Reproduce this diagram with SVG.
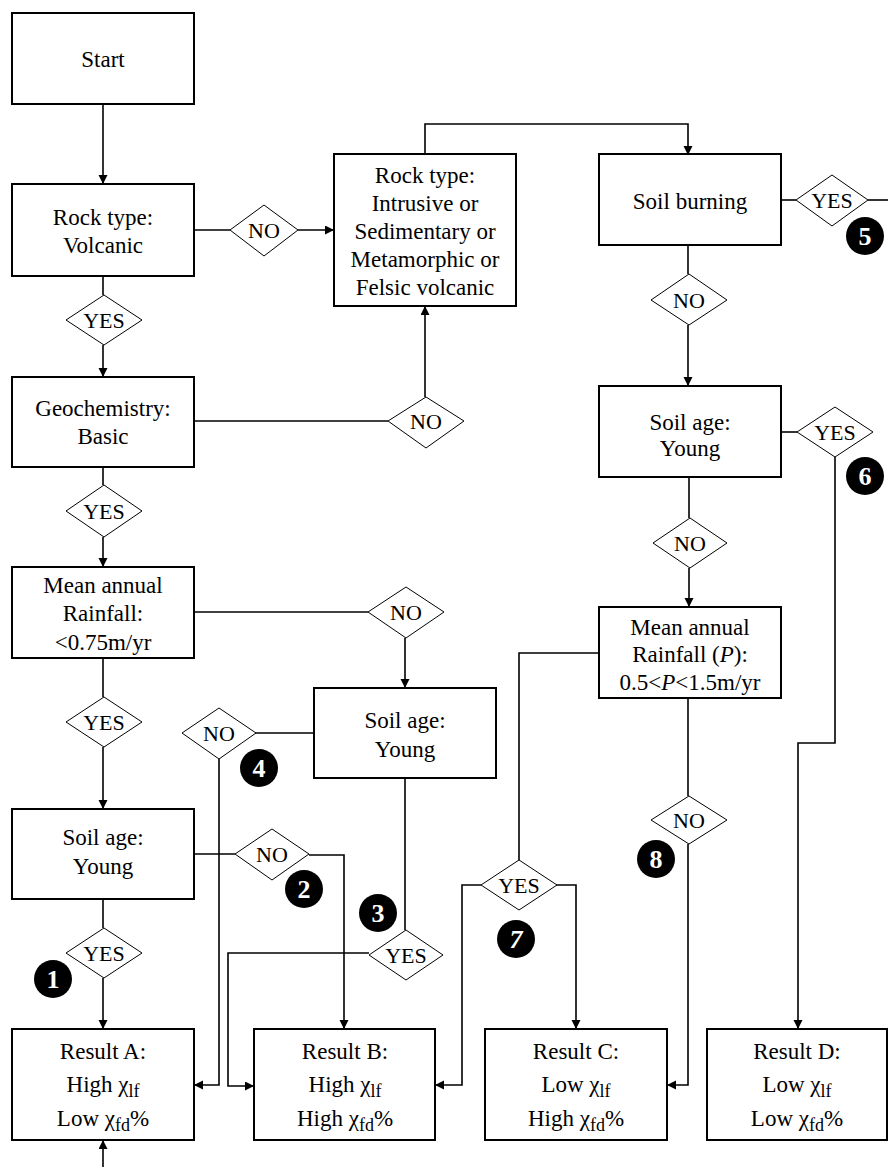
<svg xmlns="http://www.w3.org/2000/svg" width="888" height="1167" viewBox="0 0 888 1167" font-family="Liberation Serif, Times New Roman, DejaVu Serif, serif">
<defs>
<marker id="ah" markerUnits="userSpaceOnUse" markerWidth="10" markerHeight="10" refX="9" refY="4.5" orient="auto">
<path d="M0,0 L9,4.5 L0,9 z" fill="#000"/>
</marker>
<style>
.box{fill:#fff;stroke:#000;stroke-width:2}
.dia{fill:#fff;stroke:#000;stroke-width:1}
.t{font-size:23px;fill:#000;text-anchor:middle}
.d{font-size:22px;fill:#000;text-anchor:middle}
.c{fill:#000}
.n{font-size:26px;font-weight:bold;fill:#fff;text-anchor:middle}
.ln{fill:none;stroke:#000;stroke-width:1.6}
.a{marker-end:url(#ah)}
.sub{font-size:18px}
</style>
</defs>
<rect width="888" height="1167" fill="#fff"/>

<g id="connectors">
<path class="ln a" d="M103,104 V184"/>
<path class="ln" d="M194,230 H230"/>
<path class="ln a" d="M298,230 H334"/>
<path class="ln a" d="M425,154 V124 H688 V155"/>
<path class="ln" d="M781,200 H796"/>
<path class="ln" d="M868,200 H888"/>
<path class="ln" d="M103,276 V295"/>
<path class="ln a" d="M103,345 V377"/>
<path class="ln" d="M194,421 H388"/>
<path class="ln a" d="M425,397 V306"/>
<path class="ln" d="M103,467 V485"/>
<path class="ln a" d="M103,537 V567"/>
<path class="ln" d="M194,612 H368"/>
<path class="ln a" d="M405,638 V688"/>
<path class="ln" d="M103,658 V697"/>
<path class="ln a" d="M103,747 V809"/>
<path class="ln" d="M314,733 H255"/>
<path class="ln a" d="M219,759 V1085 H194"/>
<path class="ln" d="M194,854 H235"/>
<path class="ln a" d="M309,855 H344 V1029"/>
<path class="ln" d="M405,778 V930"/>
<path class="ln a" d="M369,953 H228 V1086 H254"/>
<path class="ln" d="M103,899 V928"/>
<path class="ln a" d="M103,978 V1029"/>
<path class="ln a" d="M103,1167 V1140"/>
<path class="ln" d="M688,245 V274"/>
<path class="ln a" d="M688,325 V386"/>
<path class="ln" d="M781,432 H797"/>
<path class="ln a" d="M835,457 V743 H798 V1029"/>
<path class="ln" d="M689,477 V518"/>
<path class="ln a" d="M689,568 V607"/>
<path class="ln" d="M599,653 H519 V860"/>
<path class="ln a" d="M481,885 H462 V1085 H435"/>
<path class="ln a" d="M556,885 H576 V1029"/>
<path class="ln" d="M688,698 V796"/>
<path class="ln a" d="M688,844 V1085 H667"/>
</g>

<g id="start"><rect class="box" x="12" y="13" width="182" height="91"/><text class="t" x="103" y="67">Start</text></g>
<g id="rock-volcanic"><rect class="box" x="12" y="184" width="182" height="92"/><text class="t" x="103" y="225">Rock type:</text><text class="t" x="103" y="253">Volcanic</text></g>
<g id="rock-other"><rect class="box" x="334" y="154" width="182" height="152"/>
<text class="t" x="425" y="183">Rock type:</text><text class="t" x="425" y="211">Intrusive or</text><text class="t" x="425" y="239">Sedimentary or</text><text class="t" x="425" y="267">Metamorphic or</text><text class="t" x="425" y="295">Felsic volcanic</text></g>
<g id="soil-burning"><rect class="box" x="599" y="154" width="182" height="91"/><text class="t" x="690" y="209">Soil burning</text></g>
<g id="geochem"><rect class="box" x="12" y="377" width="182" height="90"/><text class="t" x="103" y="416">Geochemistry:</text><text class="t" x="103" y="444">Basic</text></g>
<g id="soil-age-r"><rect class="box" x="599" y="386" width="182" height="91"/><text class="t" x="690" y="430">Soil age:</text><text class="t" x="690" y="456">Young</text></g>
<g id="rain-l"><rect class="box" x="12" y="567" width="182" height="91"/><text class="t" x="103" y="593">Mean annual</text><text class="t" x="103" y="621">Rainfall:</text><text class="t" x="103" y="650">&lt;0.75m/yr</text></g>
<g id="rain-r"><rect class="box" x="599" y="607" width="182" height="91"/><text class="t" x="690" y="635">Mean annual</text><text class="t" x="690" y="662">Rainfall (<tspan font-style="italic">P</tspan>):</text><text class="t" x="690" y="690">0.5&lt;<tspan font-style="italic">P</tspan>&lt;1.5m/yr</text></g>
<g id="soil-age-m"><rect class="box" x="314" y="688" width="182" height="90"/><text class="t" x="405" y="728">Soil age:</text><text class="t" x="405" y="757">Young</text></g>
<g id="soil-age-l"><rect class="box" x="12" y="809" width="182" height="90"/><text class="t" x="103" y="845">Soil age:</text><text class="t" x="103" y="874">Young</text></g>

<g id="result-a"><rect class="box" x="12" y="1029" width="182" height="111"/><text class="t" x="103" y="1059">Result A:</text><text class="t" x="103" y="1092">High χ<tspan class="sub" dy="5">lf</tspan></text><text class="t" x="103" y="1126">Low χ<tspan class="sub" dy="5">fd</tspan><tspan dy="-5">%</tspan></text></g>
<g id="result-b"><rect class="box" x="254" y="1029" width="181" height="111"/><text class="t" x="345" y="1059">Result B:</text><text class="t" x="345" y="1092">High χ<tspan class="sub" dy="5">lf</tspan></text><text class="t" x="345" y="1126">High χ<tspan class="sub" dy="5">fd</tspan><tspan dy="-5">%</tspan></text></g>
<g id="result-c"><rect class="box" x="485" y="1029" width="182" height="111"/><text class="t" x="576" y="1059">Result C:</text><text class="t" x="576" y="1092">Low χ<tspan class="sub" dy="5">lf</tspan></text><text class="t" x="576" y="1126">High χ<tspan class="sub" dy="5">fd</tspan><tspan dy="-5">%</tspan></text></g>
<g id="result-d"><rect class="box" x="707" y="1029" width="180" height="111"/><text class="t" x="797" y="1059">Result D:</text><text class="t" x="797" y="1092">Low χ<tspan class="sub" dy="5">lf</tspan></text><text class="t" x="797" y="1126">Low χ<tspan class="sub" dy="5">fd</tspan><tspan dy="-5">%</tspan></text></g>

<g id="d-no-rock"><polygon class="dia" points="230,230 264,205 298,230 264,256"/><text class="d" x="264" y="238">NO</text></g>
<g id="d-yes-burn"><polygon class="dia" points="796,200 832,175 868,200 832,226"/><text class="d" x="832" y="208">YES</text></g>
<g id="d-yes-rock"><polygon class="dia" points="66,320 104,295 142,320 104,345"/><text class="d" x="104" y="328">YES</text></g>
<g id="d-no-burn"><polygon class="dia" points="651,300 689,274 727,300 689,325"/><text class="d" x="689" y="308">NO</text></g>
<g id="d-no-geo"><polygon class="dia" points="388,421 426,397 464,421 426,448"/><text class="d" x="426" y="429">NO</text></g>
<g id="d-yes-age-r"><polygon class="dia" points="797,432 835,407 873,432 835,457"/><text class="d" x="835" y="440">YES</text></g>
<g id="d-yes-geo"><polygon class="dia" points="66,511 104,485 142,511 104,537"/><text class="d" x="104" y="519">YES</text></g>
<g id="d-no-age-r"><polygon class="dia" points="653,543 690,518 727,543 690,568"/><text class="d" x="690" y="551">NO</text></g>
<g id="d-no-rain-l"><polygon class="dia" points="368,612 406,587 444,612 406,638"/><text class="d" x="406" y="620">NO</text></g>
<g id="d-yes-rain-l"><polygon class="dia" points="66,722 104,697 142,722 104,747"/><text class="d" x="104" y="730">YES</text></g>
<g id="d-no-4"><polygon class="dia" points="182,733 219,708 256,733 219,759"/><text class="d" x="219" y="741">NO</text></g>
<g id="d-no-8"><polygon class="dia" points="651,820 689,796 727,820 689,844"/><text class="d" x="689" y="828">NO</text></g>
<g id="d-no-2"><polygon class="dia" points="235,854 272,829 309,854 272,880"/><text class="d" x="272" y="862">NO</text></g>
<g id="d-yes-7"><polygon class="dia" points="481,885 519,860 557,885 519,910"/><text class="d" x="519" y="893">YES</text></g>
<g id="d-yes-1"><polygon class="dia" points="66,953 104,928 142,953 104,978"/><text class="d" x="104" y="961">YES</text></g>
<g id="d-yes-3"><polygon class="dia" points="369,955 406,930 443,955 406,980"/><text class="d" x="406" y="963">YES</text></g>

<g id="n1"><circle class="c" cx="53" cy="979" r="19"/><text class="n" x="53" y="988">1</text></g>
<g id="n2"><circle class="c" cx="304" cy="889" r="19"/><text class="n" x="304" y="898">2</text></g>
<g id="n3"><circle class="c" cx="378" cy="913" r="19"/><text class="n" x="378" y="922">3</text></g>
<g id="n4"><circle class="c" cx="259" cy="768" r="19"/><text class="n" x="259" y="777">4</text></g>
<g id="n5"><circle class="c" cx="865" cy="236" r="19"/><text class="n" x="865" y="245">5</text></g>
<g id="n6"><circle class="c" cx="865" cy="476" r="19"/><text class="n" x="865" y="485">6</text></g>
<g id="n7"><circle class="c" cx="516" cy="939" r="19"/><text class="n" x="516" y="948" font-style="italic">7</text></g>
<g id="n8"><circle class="c" cx="656" cy="859" r="19"/><text class="n" x="656" y="868">8</text></g>
</svg>
